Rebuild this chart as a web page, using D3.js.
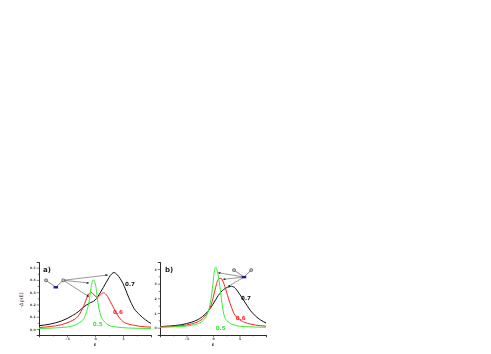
<!DOCTYPE html>
<html>
<head>
<meta charset="utf-8">
<script src="https://cdnjs.cloudflare.com/ajax/libs/d3/7.8.5/d3.min.js"></script>
<style>
  html, body { margin: 0; padding: 0; background: white; }
  svg { display: block; }
  text { font-family: "DejaVu Sans", Arial, sans-serif; }
</style>
</head>
<body>
<svg id="drawspace" width="491" height="354"></svg>
<script>
// panel a
const aEnergy = [-10,-8,-6,-5,-4,-3,-2,-1,0,1,2,3,3.4,4,5,6,7,8,9,10];
const aBlack = [.027,.04,.065,.085,.11,.14,.18,.21,.235,.3,.38,.45,.46,.44,.37,.26,.165,.115,.075,.045];
const aRedE = [-10,-8,-6,-5,-4,-3,-2,-1.4,-.7,0,.5,1,1.5,2,3,4,5,6,7,8,10];
const aRed = [.012,.02,.035,.05,.07,.105,.19,.26,.30,.27,.26,.28,.295,.28,.2,.115,.06,.04,.03,.022,.015];
const aGreenE = [-10,-6,-4,-3,-2,-1.5,-1,-.7,-.3,.1,.5,1,1.5,2,3,4,6,10];
const aGreen = [.004,.012,.025,.045,.085,.14,.24,.34,.40,.36,.22,.115,.07,.045,.022,.015,.008,.004];

// panel b
const bEnergy = [-10,-8,-6,-4,-3,-2,-1,0,1,2,3,3.5,4,5,6,7,8,9,10];
const bBlack = [.07,.12,.2,.38,.52,.75,1.1,1.6,2.2,2.6,2.78,2.82,2.75,2.3,1.75,1.2,.8,.52,.32];
const bRedE = [-10,-8,-6,-4,-3,-2,-1,-.5,0,.5,1,1.5,2,2.5,3,4,5,6,7,8,10];
const bRed = [.05,.08,.13,.26,.38,.6,1.05,1.4,2,2.75,3.3,3.37,3.05,2.5,1.9,.95,.55,.36,.25,.18,.1];
const bGreenE = [-10,-6,-4,-3,-2,-1,-.5,0,.2,.5,.9,1.3,1.8,2.2,3,4,5,6,8,10];
const bGreen = [.03,.08,.16,.25,.45,1,1.7,3,3.7,4.12,3.7,2.8,1.4,.72,.36,.18,.1,.07,.04,.03];

const xTicks = [-5, 0, 5];
const xMinor = [-7.5, -2.5, 2.5, 7.5];
const aYTicks = [0, .1, .2, .3, .4, .5];
const aYMinor = [.05, .15, .25, .35, .45];
const bYTicks = [0, 1, 2, 3, 4];
const bYMinor = [.5, 1.5, 2.5, 3.5];

// inset points are in data units of each panel
const aNodes = [[-8.75,.397,"#999"],[-7,.34,"#1a1a9c"],[-5.66,.397,"#999"]];
const aArrows = [[-5.66,.397,2.3,.44],[-5.66,.397,-1.07,.375],[-5.66,.397,-1.07,.263]];
const bNodes = [[3.96,3.93,"#999"],[5.85,3.45,"#1a1a9c"],[7.2,3.93,"#999"]];
const bArrows = [[5.85,3.45,.95,3.75],[5.85,3.45,1.9,3.3],[5.85,3.45,2.8,2.8]];

const svg = d3.select("#drawspace");
const defs = svg.append("defs");
defs.append("filter").attr("id", "soft").append("feGaussianBlur").attr("stdDeviation", 0.35);
defs.append("marker").attr("id", "head")
  .attr("viewBox", "0 0 6 6").attr("refX", 6).attr("refY", 3)
  .attr("markerWidth", 5).attr("markerHeight", 5).attr("orient", "auto")
  .append("path").attr("d", "M0,0L6,3L0,6Z").attr("fill", "#222");

function drawPanel(p) {
  let g = svg.append("g").attr("filter", "url(#soft)");
  let x = d3.scaleLinear().domain([-10, 10]).range([p.left, p.right]);
  let y = d3.scaleLinear().domain(p.yDomain).range([p.bottom, p.top]);

  // minor ticks first, then the labelled ones on top
  let xMinorAxis = g.append("g").attr("transform", `translate(0,${p.bottom})`)
    .call(d3.axisBottom(x).tickValues(xMinor).tickSize(1.3).tickFormat(""));
  let yMinorAxis = g.append("g").attr("transform", `translate(${p.left},0)`)
    .call(d3.axisLeft(y).tickValues(p.yMinor).tickSize(1.3).tickFormat(""));
  let xAxis = g.append("g").attr("transform", `translate(0,${p.bottom})`)
    .call(d3.axisBottom(x).tickValues(xTicks).tickSize(2.3).tickPadding(0.6).tickFormat(d3.format("d")));
  let yAxis = g.append("g").attr("transform", `translate(${p.left},0)`)
    .call(d3.axisLeft(y).tickValues(p.yTicks).tickSize(2.3).tickPadding(1).tickFormat(p.format));
  for (let a of [xMinorAxis, yMinorAxis, xAxis, yAxis]) {
    a.selectAll("text").attr("font-size", 3.2).attr("font-weight", "bold").attr("fill", "#333");
    a.selectAll("line").attr("stroke", "#333").attr("stroke-width", 0.6);
    a.selectAll("path").attr("stroke", "#222").attr("stroke-width", 0.8);
  }

  let line = d3.line().x(d => x(d[0])).y(d => y(d[1])).curve(d3.curveMonotoneX);
  for (let s of p.series) {
    g.append("path")
      .attr("d", line(d3.zip(s.e, s.v)))
      .attr("fill", "none")
      .attr("stroke", s.color)
      .attr("stroke-width", 1);
    g.append("text").attr("x", x(s.label[0])).attr("y", y(s.label[1]))
      .attr("font-size", 5.6).attr("font-weight", "bold").attr("fill", s.color)
      .text(s.label[2]);
  }

  for (let a of p.arrows) {
    g.append("line")
      .attr("x1", x(a[0])).attr("y1", y(a[1])).attr("x2", x(a[2])).attr("y2", y(a[3]))
      .attr("stroke", "#333").attr("stroke-width", 0.5).attr("marker-end", "url(#head)");
  }
  let nodeLine = d3.line().x(d => x(d[0])).y(d => y(d[1]));
  g.append("path").attr("d", nodeLine(p.nodes)).attr("fill", "none").attr("stroke", "#333").attr("stroke-width", 0.6);
  g.selectAll("rect.node").data(p.nodes.filter(d => d[2] != "#999")).enter().append("rect")
    .attr("x", d => x(d[0]) - 2.2).attr("y", d => y(d[1]) - 1.2)
    .attr("width", 4.4).attr("height", 2.4).attr("fill", d => d[2]);
  g.selectAll("circle.node").data(p.nodes.filter(d => d[2] == "#999")).enter().append("circle")
    .attr("cx", d => x(d[0])).attr("cy", d => y(d[1])).attr("r", 1.6)
    .attr("fill", "#bbb").attr("stroke", "#333").attr("stroke-width", 0.5);

  g.append("text").attr("x", x(p.tag[0])).attr("y", y(p.tag[1]))
    .attr("font-size", 7).attr("font-weight", "bold").attr("fill", "#222").text(p.tag[2]);
  g.append("text").attr("x", x(0)).attr("y", p.bottom + 10.8)
    .attr("text-anchor", "middle").attr("font-size", 3.6).attr("font-weight", "bold").attr("fill", "#333").text("E");
}

drawPanel({
  left: 39, right: 151, top: 262, bottom: 335,
  yDomain: [-0.049, 0.546], yTicks: aYTicks, yMinor: aYMinor, format: d3.format(".1f"),
  series: [
    {e: aEnergy, v: aBlack, color: "#111", label: [5.36, .35, "0.7"]},
    {e: aRedE, v: aRed, color: "#ff2020", label: [3.2, .12, "0.6"]},
    {e: aGreenE, v: aGreen, color: "#33ee33", label: [-.4, .027, "0.5"]}
  ],
  nodes: aNodes, arrows: aArrows, tag: [-9.3, .466, "a)"]
});

drawPanel({
  left: 160, right: 266, top: 262, bottom: 335,
  yDomain: [-0.5, 4.48], yTicks: bYTicks, yMinor: bYMinor, format: d3.format("d"),
  series: [
    {e: bEnergy, v: bBlack, color: "#111", label: [5.3, 1.9, "0.7"]},
    {e: bRedE, v: bRed, color: "#ff2020", label: [4.3, .5, "0.6"]},
    {e: bGreenE, v: bGreen, color: "#33ee33", label: [.5, -.15, "0.5"]}
  ],
  nodes: bNodes, arrows: bArrows, tag: [-9.05, 3.78, "b)"]
});

svg.append("text")
  .attr("transform", "translate(22.5,300) rotate(-90)")
  .attr("text-anchor", "middle").attr("font-size", 5).attr("fill", "#333")
  .text("-Δρ(E)");
</script>
</body>
</html>
